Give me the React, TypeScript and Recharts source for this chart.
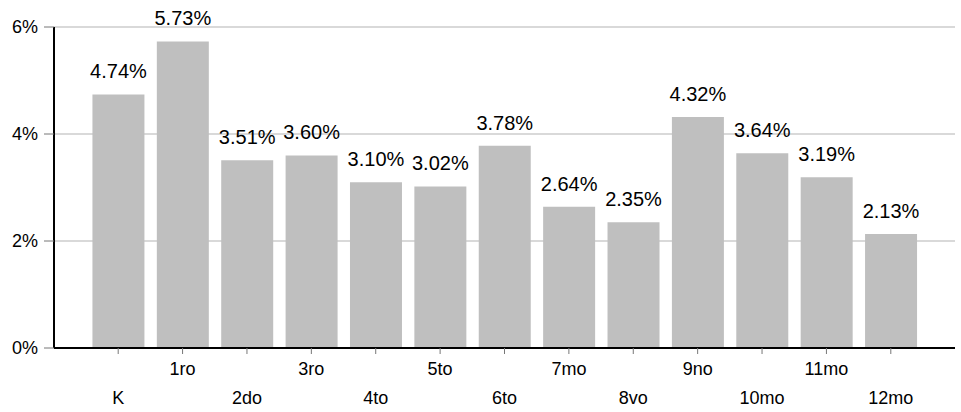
import React from 'react'
import { BarChart, Bar, XAxis, YAxis, CartesianGrid, LabelList } from 'recharts'

const grades = ['K', '1ro', '2do', '3ro', '4to', '5to', '6to', '7mo', '8vo', '9no', '10mo', '11mo', '12mo']
const rates = [4.74, 5.73, 3.51, 3.6, 3.1, 3.02, 3.78, 2.64, 2.35, 4.32, 3.64, 3.19, 2.13]
const yTicks = [0, 2, 4, 6]

const data = grades.map((g, i) => ({ grade: g, rate: rates[i] }))

const font = '"Liberation Sans", Arial, sans-serif'

// alternate rows so the labels don't collide
const GradeTick = (props: any) => {
  const { x, y, payload, index } = props
  const dy = index % 2 === 0 ? 48 : 19
  return (
    <text x={x} y={y + dy} textAnchor="middle" fontSize={18} fontFamily={font} fill="#000">
      {payload.value}
    </text>
  )
}

export default function App() {
  return (
    <div style={{ position: 'absolute', left: 0, top: 0, background: '#fff' }}>
      <BarChart
        width={961}
        height={412}
        data={data}
        margin={{ top: 27, right: 6, bottom: 0, left: 0 }}
        barCategoryGap="10%"
      >
        <CartesianGrid vertical={false} stroke="#d9d9d9" strokeWidth={2} />
        <XAxis
          dataKey="grade"
          height={64}
          interval={0}
          padding={{ left: 32, right: 32 }}
          axisLine={{ stroke: '#000', strokeWidth: 2 }}
          tickLine={{ stroke: '#777' }}
          tickSize={6}
          tick={<GradeTick />}
        />
        <YAxis
          width={54}
          domain={[0, 6]}
          ticks={yTicks}
          tickFormatter={(v: number) => `${v}%`}
          axisLine={{ stroke: '#000', strokeWidth: 2 }}
          tickLine={{ stroke: '#777' }}
          tickSize={10}
          tickMargin={6}
          tick={{ fontSize: 18, fontFamily: font, fill: '#000' }}
        />
        <Bar dataKey="rate" fill="#bfbfbf" isAnimationActive={false}>
          <LabelList
            dataKey="rate"
            position="top"
            offset={16}
            formatter={(v: any) => `${Number(v).toFixed(2)}%`}
            style={{ fontSize: 20, fontFamily: font, fill: '#000' }}
          />
        </Bar>
      </BarChart>
    </div>
  )
}
